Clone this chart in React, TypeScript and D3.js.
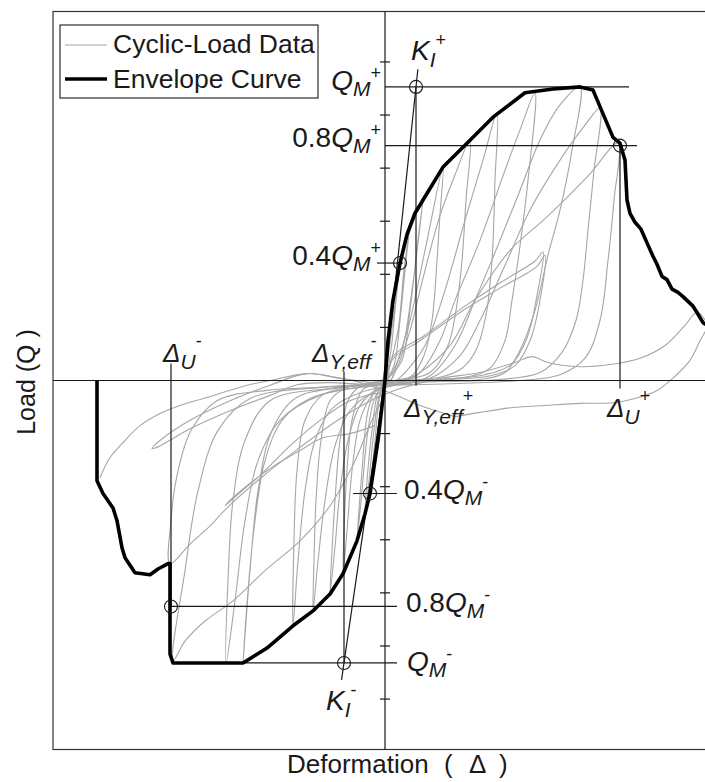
import React from "react";
import * as d3 from "d3";

// ---- Envelope (backbone) curve: deformation (mm) vs load (kN) ----
const envelopePos: [number, number][] = [
  [0, 0], [0.75, 7.5], [2, 15.1], [3.75, 22.1], [5.5, 27.5], [7.5, 31.5], [9.5, 34],
  [14.5, 40.2], [20.5, 44.7], [27, 49.6], [35, 54.2], [42, 54.9], [48.75, 55.3],
  [52, 54.7], [57, 45.8], [58.75, 44.7], [60, 41.5], [60.5, 34], [61.25, 31.5],
  [62.5, 29.8], [64, 28.5], [65.75, 25.5], [67, 23.4], [68, 21.9], [69.25, 19.6],
  [70.5, 19], [71.75, 17.2], [73.25, 16.6], [74.5, 15.8], [75.75, 14.9], [77, 14],
  [78, 12.8], [79.5, 10.9], [80.5, 10.4],
];

const envelopeNeg: [number, number][] = [
  [0, 0], [-1.75, -11.3], [-3.75, -21.3], [-5, -25.1], [-7, -30.2], [-10.5, -36.4],
  [-13.75, -40.2], [-18, -43.4], [-23, -46.2], [-29.5, -50.4], [-35.5, -53.2],
  [-53, -53.2], [-53.75, -51.5], [-53.75, -34.5], [-54.25, -34.5], [-56.75, -35.5],
  [-58.75, -36.6], [-62.5, -36.2], [-65, -33.4], [-65.75, -31.5], [-67, -26.4],
  [-68, -24], [-70.5, -21.3], [-72, -18.9], [-72, 0],
];

// ---- Cyclic-load test record, one array per cycle ----
const cycle01: [number, number][] = [
  [-0.5, 0], [1.25, 9.4], [2.25, 15.1], [1.5, 9.4], [0.25, 0.9], [-1, -7.5],
  [-1.75, -11.3], [-1, -7.5], [-0.25, -0.9], [0.25, 1.9],
];
const cycle02: [number, number][] = [
  [0.25, 1.9], [2, 11.3], [3.75, 22.1], [2.75, 15.1], [1.5, 5.7], [0.25, 0.4],
  [-1.25, -2.8], [-2.5, -11.3], [-3.75, -21.3], [-2.75, -15.1], [-1.5, -7.5],
  [-0.25, -0.9], [0.75, 1.9],
];
const cycle03: [number, number][] = [
  [0.75, 1.5], [3.25, 9.4], [4.75, 20.8], [6.25, 29.2], [5.25, 22.6], [3.75, 11.3],
  [2.25, 2.8], [0.25, 0], [-1.75, -2.3], [-3.25, -9.4], [-4.5, -18.9], [-5, -25.1],
  [-4, -18.9], [-2.75, -9.4], [-1.25, -2.3], [1.25, 0.8],
];
const cycle04: [number, number][] = [
  [1.25, 0.8], [4.25, 5.7], [6.75, 17], [9.5, 34], [8.25, 26.4], [6.25, 13.2],
  [4.25, 3.8], [1.25, 0.8], [-1.75, -0.8], [-4.25, -5.7], [-5.75, -17], [-7, -30.2],
  [-5.75, -20.8], [-4.25, -9.4], [-2.25, -2.8], [1.75, 0.4],
];
const cycle05: [number, number][] = [
  [1.75, 0.4], [3.25, 3.8], [6.25, 11.3], [10, 24.5], [14.5, 40.2], [13.75, 31.3],
  [13, 22.6], [11.75, 11.3], [9.75, 4.7], [6.75, 0.9], [2.5, 0], [-2.5, -0.6],
  [-5.75, -1.9], [-8.25, -7.5], [-9.5, -17], [-10.25, -28.3], [-10.5, -36.4],
  [-9.5, -28.3], [-8.25, -17], [-6.25, -7.5], [-3.25, -2.8], [1.25, -0.4],
];
const cycle06: [number, number][] = [
  [1.25, -0.4], [3.25, 2.8], [6.25, 9.4], [8.75, 17], [13.75, 31.1], [17.5, 38.7],
  [21.25, 45.3], [20.25, 34], [19.25, 22.6], [17.75, 13.2], [15.75, 6.6], [11.25, 1.5],
  [5, 0.2], [-1.25, -0.2], [-6.25, -1.1], [-9.25, -3.8], [-11.25, -11.3],
  [-12.5, -22.6], [-13.25, -32.1], [-13.75, -40.2], [-12.5, -31.3], [-11.25, -20.8],
  [-9.25, -11.3], [-6.25, -4.7], [-1.75, -1.5], [2.5, -0.2],
];
const cycle07: [number, number][] = [
  [2.5, -0.2], [5, 1.5], [10, 6.6], [15, 17], [20, 30.2], [24.5, 41.5], [28, 50.4],
  [27.5, 37.7], [26.75, 22.6], [25.25, 12.3], [22.75, 5.7], [19.25, 2.3],
  [13.75, 0.6], [3.75, 0], [-3.75, -0.4], [-10, -1.5], [-13.75, -3.8], [-16, -11.3],
  [-17.25, -22.6], [-17.75, -34], [-18, -43.4], [-16.75, -34], [-15, -22.6],
  [-12.5, -12.3], [-8.75, -5.7], [-3.25, -2.3], [3.75, -0.6],
];
const cycle08: [number, number][] = [
  [3.75, -0.6], [8.75, 1.5], [13.75, 7.5], [17.5, 15.1], [23.75, 26.4], [30, 39.6],
  [33.75, 47.2], [37.5, 54.2], [35.75, 37.7], [33.25, 22.6], [31.75, 15.1],
  [30, 7.5], [26.25, 2.3], [20, 0.6], [8.75, 0], [-1.25, -0.4], [-8.75, -1.1],
  [-15.75, -2.8], [-20, -7.5], [-22, -17], [-22.75, -30.2], [-23, -46.2],
  [-21.75, -34], [-20, -20.8], [-17.5, -11.3], [-13.25, -5.3], [-6.25, -2.3],
  [3.75, -0.8],
];
const cycle09: [number, number][] = [
  [3.75, -0.8], [11.25, 0.9], [17.5, 6.6], [22.5, 15.1], [28.75, 26.4], [33.75, 35.8],
  [38.75, 45.3], [43.75, 51.9], [48.75, 55.3], [46.75, 43.4], [43.75, 32.1],
  [40.75, 23.6], [37.5, 13.2], [33.75, 5.7], [30, 1.5], [23.75, 0.2], [11.25, -0.2],
  [-1.25, -0.6], [-11.25, -1.3], [-22.5, -3.4], [-28.25, -9.4], [-31.75, -20.8],
  [-33.75, -35.8], [-35.5, -53.2], [-34.25, -39.6], [-32.5, -26.4], [-30, -15.1],
  [-25.75, -7.5], [-18.75, -3.4], [-8.75, -1.5], [2.5, -0.8],
];
const cycle10: [number, number][] = [
  [2.5, -0.8], [11.25, 0.4], [18.75, 4.7], [23.75, 11.3], [30, 21.7], [36.25, 32.1],
  [43.75, 41.5], [50, 48.1], [53.75, 51.3], [52.25, 39.6], [50.75, 28.3],
  [49.5, 18.9], [47.75, 11.3], [44.25, 5.3], [38.75, 1.5], [28.75, 0.2],
  [13.75, -0.2], [-1.25, -0.6], [-16.25, -1.3], [-33.75, -3.4], [-41.75, -9.4],
  [-46.75, -20.8], [-50, -35.8], [-53, -52.8], [-50, -49.1], [-45, -45.3],
  [-38, -41.5], [-30, -35.8], [-21.25, -30.2], [-13.75, -23.6], [-7.5, -15.1],
  [-3.25, -7.5], [0, -2.8],
];
const cycle11: [number, number][] = [
  [1.25, -1.1], [8.75, 1.5], [16.25, 6.6], [22.5, 15.1], [31.25, 24.5], [40.5, 30.8],
  [50.5, 38.3], [58.25, 44.7], [57.25, 34], [55.75, 22.6], [53.75, 11.3], [50, 4.2],
  [43.75, 1.1], [33.75, 0], [16.25, -0.6], [-1.25, -0.9], [-16.25, -1.3],
  [-30, -1.9], [-42, -3.8], [-48.5, -9.4], [-52, -17.9], [-53.5, -26.4],
  [-53.75, -34.5], [-48.75, -30.8], [-43.75, -27.4], [-39.5, -24], [-31.25, -18.5],
  [-21.25, -12.6], [-11.25, -7.2], [-2.5, -3.4], [3.75, -1.5],
];
const cycle12: [number, number][] = [
  [3.75, -1.5], [13.75, 0.4], [23.75, 1.5], [32.5, 3.4], [36.75, 4.5], [40.75, 3.4],
  [48.75, 2.6], [56.25, 3], [63.75, 4.2], [70, 6.6], [75, 10.4], [78, 12.8],
  [80.5, 10.4], [78.75, 7.5], [76.25, 3.8], [72.5, 0.8], [68, -1.9], [62.5, -3.4],
  [57, -4.2], [48.75, -4.3], [40, -4.7], [32, -5.1], [23.75, -6], [17.5, -6.8],
];
const cycle13: [number, number][] = [
  [17.5, -6.8], [8.75, -4.7], [1.25, -2.3], [-6.25, -0.4], [-13.75, 0.8],
  [-19.5, 1.3], [-28.75, 0], [-34.5, -0.9], [-44.5, -3.2], [-51.25, -4.7],
  [-56.25, -6.2], [-61.25, -8.5], [-65.75, -11.9], [-68.75, -14.5], [-71.25, -18.3],
];
const cycle14: [number, number][] = [
  [-1.25, -0.6], [-11.25, 0.4], [-19.5, 1.3], [-28.75, -0.9], [-38.75, -3.8],
  [-48.75, -7.5], [-56.25, -11.3], [-58.25, -12.8], [-56.75, -12.5], [-48.75, -9.1],
  [-38.75, -5.7], [-28.75, -2.8], [-22, -0.8], [-13.75, -0.4], [-3.75, -0.9],
];
const cycle15: [number, number][] = [
  [-1.25, -2.3], [-8.75, -3.8], [-16.25, -7.5], [-23.75, -12.3], [-31.25, -17.9],
  [-36.25, -21.1], [-40, -23.6], [-37.5, -21.7], [-28.75, -16.6], [-21.25, -13.2],
  [-15.5, -10.8], [-8.75, -10], [-2.5, -8.5],
];
const cycle16: [number, number][] = [
  [0.75, -0.9], [1.75, 3.8], [8.75, 7.5], [19.5, 13.2], [28.75, 17.4], [38, 21.5],
  [40, 23.6], [38.75, 15.1], [36.25, 7.5], [32.5, 2.8], [26.25, 0.9], [16.25, 0.2],
  [3.75, -0.4],
];
const cycle17: [number, number][] = [
  [0.5, -0.6], [2, 4.5], [9.5, 8.3], [20, 14], [29, 18.5], [37.5, 22.5], [39.5, 24.2],
  [38, 16], [35.5, 8], [31.5, 3], [25, 1.1], [15, 0.3], [3, -0.2],
];
const cycle18: [number, number][] = [
  [2.5, -0.6], [-3.75, -0.9], [-13.75, -1.5], [-28.75, -3.8], [-35, -11.3],
  [-38, -22.6], [-39.25, -37.7], [-39.75, -53.2], [-37.5, -41.5], [-35, -26.4],
  [-31.75, -15.1], [-26.25, -7.5], [-16.25, -2.8], [-3.75, -1.1],
];

const cycles = [
  cycle01, cycle02, cycle03, cycle04, cycle05, cycle06, cycle07, cycle08, cycle09,
  cycle10, cycle11, cycle12, cycle13, cycle14, cycle15, cycle16, cycle17, cycle18,
];

// ---- Characteristic values ----
const QM_POS = 55.3;
const QM_NEG = -53.2;
const DU_POS = 58.75;
const DU_NEG = -53.5;
const DY_POS = 7.75;
const DY_NEG = -10.25;
const D40_POS = 3.75;
const D40_NEG = -3.75;

const loadTicks = [-60, -50, -40, -30, -20, -10, 0, 10, 20, 30, 40, 50, 60];

const FONT = "'Liberation Sans', Arial, Helvetica, sans-serif";
const INK = "#1a1a1a";

export default function App() {
  const W = 705;
  const H = 782;
  const x = d3.scaleLinear().domain([-83, 83]).range([53, 717]);
  const y = d3.scaleLinear().domain([-69.5, 69.5]).range([749.5, 11.5]);

  const cycLine = d3
    .line<[number, number]>()
    .x((d) => x(d[0]))
    .y((d) => y(d[1]))
    .curve(d3.curveCatmullRom.alpha(0.5));
  const envLine = d3
    .line<[number, number]>()
    .x((d) => x(d[0]))
    .y((d) => y(d[1]));

  const x0 = x(0);
  const y0 = y(0);

  const hLines: [number, number, number][] = [
    [0, 61, QM_POS],
    [0, 63, 0.8 * QM_POS],
    [-2, 4.5, 0.4 * QM_POS],
    [-53, 3, QM_NEG],
    [-53.75, 3, 0.8 * QM_NEG],
    [-8, 3, 0.4 * QM_NEG],
  ];
  const vLines: [number, number, number][] = [
    [DU_POS, -1.5, 0.8 * QM_POS],
    [DY_POS, -1, QM_POS],
    [DU_NEG, 3.2, 0.8 * QM_NEG],
    [DY_NEG, 1.7, QM_NEG],
  ];
  const marks: [number, number][] = [
    [DY_POS, QM_POS],
    [DU_POS, 0.8 * QM_POS],
    [D40_POS, 0.4 * QM_POS],
    [D40_NEG, 0.4 * QM_NEG],
    [DU_NEG, 0.8 * QM_NEG],
    [DY_NEG, QM_NEG],
  ];

  const qLabel = (
    key: string,
    xx: number,
    yy: number,
    prefix: string,
    sign: string,
    anchor: "start" | "end"
  ) => (
    <text key={key} x={xx} y={yy} textAnchor={anchor} fontFamily={FONT} fill={INK} fontSize={28}>
      {prefix}
      <tspan fontStyle="italic">Q</tspan>
      <tspan fontStyle="italic" fontSize={21} dy={6}>M</tspan>
      <tspan fontSize={18} dy={-17}>{sign}</tspan>
    </text>
  );

  const deltaLabel = (key: string, xx: number, yy: number, sub: string, sign: string) => (
    <text key={key} x={xx} y={yy} fontFamily={FONT} fill={INK} fontSize={26}>
      <tspan fontStyle="italic">Δ</tspan>
      <tspan fontStyle="italic" fontSize={21} dy={7}>{sub}</tspan>
      <tspan fontSize={18} dy={-22}>{sign}</tspan>
    </text>
  );

  return (
    <svg
      width={W}
      height={H}
      viewBox={`0 0 ${W} ${H}`}
      style={{ position: "absolute", left: 0, top: 0, background: "#fff" }}
    >
      <rect x={0} y={0} width={W} height={H} fill="#fff" />

      {/* plot frame */}
      <rect x={53} y={y(69.5)} width={x(83) - 53} height={y(-69.5) - y(69.5)} fill="none" stroke="#333" strokeWidth={1.2} />

      {/* cyclic data */}
      <g fill="none" stroke="#a6a6a6" strokeWidth={1.1} strokeLinejoin="round">
        {cycles.map((c, i) => (
          <path key={i} d={cycLine(c) ?? ""} />
        ))}
      </g>

      {/* axes */}
      <line x1={53} x2={W} y1={y0} y2={y0} stroke={INK} strokeWidth={1.2} />
      <line x1={x0} x2={x0} y1={y(69.5)} y2={y(-69.5)} stroke={INK} strokeWidth={1.2} />
      {loadTicks.map((t) => (
        <line key={t} x1={x0 - 5} x2={x0 + 5} y1={y(t)} y2={y(t)} stroke={INK} strokeWidth={1.2} />
      ))}

      {/* characteristic lines */}
      <g stroke={INK} strokeWidth={1.2}>
        {hLines.map(([a, b, v], i) => (
          <line key={"h" + i} x1={x(a)} x2={x(b)} y1={y(v)} y2={y(v)} />
        ))}
        {vLines.map(([v, a, b], i) => (
          <line key={"v" + i} x1={x(v)} x2={x(v)} y1={y(a)} y2={y(b)} />
        ))}
        <line x1={x0} y1={y0} x2={x(DY_POS * 1.06)} y2={y(QM_POS * 1.06)} />
        <line x1={x0} y1={y0} x2={x(DY_NEG * 1.06)} y2={y(QM_NEG * 1.06)} />
      </g>

      {/* envelope */}
      <g fill="none" stroke="#000" strokeWidth={3.6} strokeLinejoin="round" strokeLinecap="butt">
        <path d={envLine(envelopePos) ?? ""} />
        <path d={envLine(envelopeNeg) ?? ""} />
      </g>

      {/* characteristic points */}
      <g fill="none" stroke={INK} strokeWidth={1.1}>
        {marks.map(([a, b], i) => (
          <circle key={i} cx={x(a)} cy={y(b)} r={6.5} />
        ))}
      </g>

      {/* annotation labels */}
      {qLabel("qp", 381, y(QM_POS) + 3, "", "+", "end")}
      {qLabel("q8p", 381, y(0.8 * QM_POS) + 1, "0.8", "+", "end")}
      {qLabel("q4p", 381, y(0.4 * QM_POS) + 2, "0.4", "+", "end")}
      {qLabel("q4n", 404, y(0.4 * QM_NEG) + 6, "0.4", "-", "start")}
      {qLabel("q8n", 406, y(0.8 * QM_NEG) + 6, "0.8", "-", "start")}
      {qLabel("qn", 407, y(QM_NEG) + 8, "", "-", "start")}

      <text x={411} y={60} fontFamily={FONT} fill={INK} fontSize={28}>
        <tspan fontStyle="italic">K</tspan>
        <tspan fontStyle="italic" fontSize={21} dy={7}>I</tspan>
        <tspan fontSize={18} dy={-21}>+</tspan>
      </text>
      <text x={326} y={710} fontFamily={FONT} fill={INK} fontSize={28}>
        <tspan fontStyle="italic">K</tspan>
        <tspan fontStyle="italic" fontSize={21} dy={7}>I</tspan>
        <tspan fontSize={18} dy={-21}>-</tspan>
      </text>

      {deltaLabel("du-", 163, 362, "U", "-")}
      {deltaLabel("dy-", 312, 362, "Y,eff", "-")}
      {deltaLabel("dy+", 404, 417, "Y,eff", "+")}
      {deltaLabel("du+", 607, 417, "U", "+")}

      {/* legend */}
      <rect x={60} y={25} width={258} height={73} fill="#fff" stroke={INK} strokeWidth={1.1} />
      <line x1={65} x2={107} y1={45} y2={45} stroke="#a6a6a6" strokeWidth={1.1} />
      <line x1={65} x2={107} y1={79} y2={79} stroke="#000" strokeWidth={3.6} />
      <text x={113} y={53} fontFamily={FONT} fontSize={26.5} fill={INK}>Cyclic-Load Data</text>
      <text x={113} y={88} fontFamily={FONT} fontSize={26.5} fill={INK}>Envelope Curve</text>

      {/* axis titles */}
      <text x={287} y={773} fontFamily={FONT} fontSize={26} fill={INK}>
        Deformation
        <tspan x={444}>(</tspan>
        <tspan x={469}>Δ</tspan>
        <tspan x={499}>)</tspan>
      </text>
      <text
        transform={`translate(35, 382) rotate(-90)`}
        textAnchor="middle"
        fontFamily={FONT}
        fontSize={25}
        fill={INK}
      >
        Load (Q )
      </text>
    </svg>
  );
}
